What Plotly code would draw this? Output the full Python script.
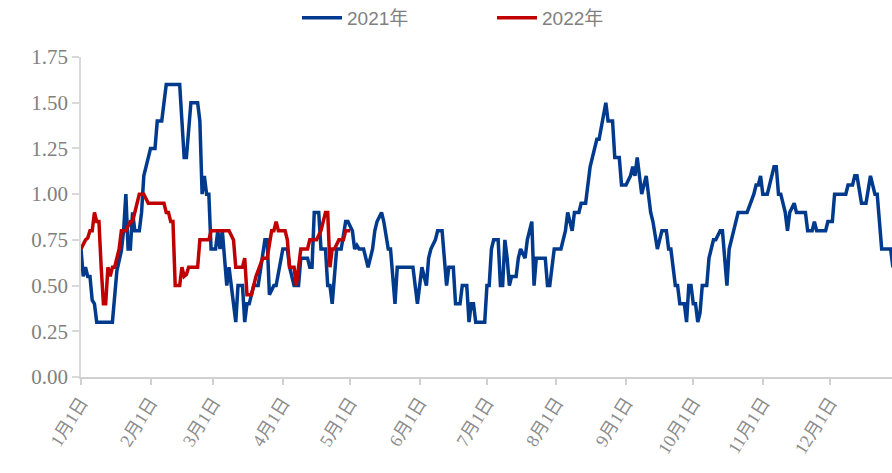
import pandas as pd
import plotly.graph_objects as go

# Day offsets from 1 Jan (same calendar day for both years) and values
days_2021 = [0, 1, 2, 3, 4, 5, 6, 7, 14, 15, 16, 18, 19, 20, 21, 22, 23, 24, 26, 27, 28, 30, 31, 33, 34, 36, 38, 44,
             46, 47, 48, 49, 52, 53, 54, 55, 56, 57, 58, 60, 61, 62, 63, 65, 66, 67, 69, 70, 72, 73, 74, 75, 77, 79,
             81, 82, 83, 84, 86, 87, 90, 92, 93, 95, 97, 98, 101, 102, 103, 104, 106, 107, 109, 110, 111, 112, 114,
             116, 118, 119, 121, 122, 123, 124, 126, 128, 130, 131, 132, 134, 135, 137, 138, 140, 141, 148, 150, 152,
             154, 155, 156, 158, 159, 161, 163, 164, 166, 167, 169, 170, 172, 173, 174, 175, 176, 180, 181, 182, 183,
             184, 186, 187, 188, 189, 190, 191, 192, 194, 195, 196, 198, 199, 201, 202, 203, 207, 208, 209, 211, 214,
             216, 217, 219, 220, 222, 223, 225, 227, 228, 230, 231, 234, 235, 237, 238, 240, 241, 243, 245, 246, 247,
             248, 249, 250, 252, 254, 255, 257, 258, 259, 261, 262, 263, 265, 266, 267, 269, 270, 271, 272, 273, 274,
             275, 276, 277, 279, 280, 282, 283, 285, 286, 288, 289, 291, 293, 297, 300, 301, 302, 303, 304, 306, 308,
             309, 310, 311, 312, 314, 315, 316, 318, 319, 323, 324, 326, 327, 328, 332, 333, 335, 336, 341, 342, 344,
             345, 346, 348, 350, 352, 354, 355, 357, 361, 362]
vals_2021 = [0.70, 0.55, 0.60, 0.55, 0.55, 0.42, 0.40, 0.30, 0.30, 0.44, 0.58, 0.69, 0.80, 1.00, 0.70, 0.70, 0.90,
             0.80, 0.80, 0.90, 1.10, 1.20, 1.25, 1.25, 1.40, 1.40, 1.60, 1.60,
             1.20, 1.20, 1.35, 1.50, 1.50, 1.40, 1.00, 1.10, 1.00, 1.00, 0.70, 0.70, 0.80, 0.70, 0.80, 0.50, 0.60,
             0.50, 0.30, 0.50, 0.50, 0.30, 0.40, 0.40, 0.50, 0.50,
             0.65, 0.75, 0.75, 0.45, 0.50, 0.50, 0.70, 0.70, 0.60, 0.50, 0.50, 0.65, 0.65, 0.60, 0.60, 0.90, 0.90,
             0.70, 0.70, 0.50, 0.50, 0.40, 0.70,
             0.70, 0.85, 0.85, 0.80, 0.70, 0.72, 0.70, 0.70, 0.60, 0.70, 0.80, 0.85, 0.90, 0.85, 0.70, 0.70, 0.40,
             0.60, 0.60, 0.40, 0.60,
             0.50, 0.65, 0.70, 0.75, 0.80, 0.80, 0.50, 0.60, 0.60, 0.40, 0.40, 0.50, 0.50, 0.30, 0.40, 0.40, 0.30,
             0.30, 0.50, 0.50, 0.70,
             0.75, 0.75, 0.50, 0.50, 0.75, 0.65, 0.50, 0.55, 0.55, 0.65, 0.70, 0.65, 0.75, 0.85, 0.50, 0.65, 0.65,
             0.50, 0.50, 0.70, 0.70,
             0.80, 0.90, 0.80, 0.90, 0.90, 0.95, 0.95, 1.15, 1.20, 1.30, 1.30, 1.50, 1.40, 1.40, 1.20, 1.20, 1.05,
             1.05, 1.10, 1.15, 1.10,
             1.20, 1.10, 1.00, 1.10, 0.90, 0.85, 0.70, 0.75, 0.80, 0.80, 0.70, 0.70, 0.50, 0.50, 0.40, 0.40, 0.30,
             0.50, 0.50, 0.40, 0.40,
             0.30, 0.35, 0.50, 0.50, 0.65, 0.75, 0.75, 0.80, 0.80, 0.50, 0.70, 0.80, 0.90, 0.90, 1.00, 1.05, 1.05,
             1.10, 1.00, 1.00, 1.10,
             1.15, 1.15, 1.00, 1.00, 0.90, 0.80, 0.90, 0.95, 0.90, 0.90, 0.80, 0.80, 0.85, 0.80, 0.80, 0.85, 0.85,
             1.00, 1.00, 1.05, 1.05,
             1.10, 1.10, 0.95, 0.95, 1.10, 1.00, 1.00, 0.70, 0.70, 0.60]

days_2022 = [0, 2, 3, 4, 5, 6, 7, 8, 9, 10, 11, 12, 13, 14, 15, 17, 18, 20, 22, 23, 25, 26, 28, 30, 37, 38, 39, 40,
             41, 42, 44, 45, 46, 47, 48, 52, 53, 57, 58, 66, 68, 69, 72, 73, 74, 76, 78, 79, 81, 83, 85, 86, 87, 88,
             91, 92, 93, 95, 96, 97, 98, 101, 102, 105, 107, 109, 110, 111, 112, 113, 115, 117, 118, 120]
vals_2022 = [0.70, 0.75, 0.76, 0.80, 0.80, 0.90, 0.85, 0.85, 0.60, 0.40, 0.40, 0.60, 0.55, 0.60, 0.60, 0.70, 0.80,
             0.80, 0.85, 0.85, 0.95, 1.00, 1.00, 0.95, 0.95, 0.90, 0.90, 0.85,
             0.85, 0.50, 0.50, 0.60, 0.55, 0.56, 0.60, 0.60, 0.75, 0.75, 0.80, 0.80, 0.75, 0.60, 0.60, 0.65, 0.45,
             0.45, 0.55, 0.58, 0.65, 0.65, 0.80, 0.80, 0.85, 0.80,
             0.80, 0.75, 0.60, 0.60, 0.50, 0.60, 0.70, 0.70, 0.75, 0.75, 0.80, 0.90, 0.90, 0.60, 0.70, 0.70, 0.75,
             0.75, 0.80, 0.80]

month_labels = ["1月1日", "2月1日", "3月1日", "4月1日", "5月1日", "6月1日",
                "7月1日", "8月1日", "9月1日", "10月1日", "11月1日", "12月1日"]
y_ticks = [0.00, 0.25, 0.50, 0.75, 1.00, 1.25, 1.50, 1.75]

base = pd.Timestamp("2021-01-01")
x21 = base + pd.to_timedelta(days_2021, unit="D")
x22 = base + pd.to_timedelta(days_2022, unit="D")
month_starts = pd.date_range("2021-01-01", periods=12, freq="MS")

fig = go.Figure()
fig.add_trace(go.Scatter(x=x21, y=vals_2021, mode="lines", name="2021年",
                         line=dict(color="#003A8C", width=3.5)))
fig.add_trace(go.Scatter(x=x22, y=vals_2022, mode="lines", name="2022年",
                         line=dict(color="#C00000", width=3.5)))

gray = "#808080"
fig.update_layout(
    width=892, height=473,
    margin=dict(l=81, r=0, t=57, b=96, autoexpand=False),
    paper_bgcolor="white", plot_bgcolor="white",
    showlegend=True,
    legend=dict(orientation="h", x=(297 - 81) / 811, xanchor="left",
                y=1 + (57 - 18) / 320, yanchor="middle",
                font=dict(family="Liberation Sans Narrow, Arial Narrow, Liberation Sans, Noto Sans CJK SC",
                          size=19, color=gray),
                entrywidth=140, entrywidthmode="pixels",
                itemwidth=40, traceorder="normal", bgcolor="rgba(0,0,0,0)"),
    xaxis=dict(
        type="date", automargin=False,
        range=[base, base + pd.Timedelta(days=361.6)],
        tickvals=month_starts, ticktext=month_labels,
        tickangle=-58,
        tickfont=dict(family="Times New Roman, Liberation Serif, Noto Sans CJK SC", size=18, color="#8c8c8c"),
        showgrid=False, zeroline=False,
        showline=True, linecolor="#D0D0D0", linewidth=1.5,
        ticks="outside", ticklen=6, tickcolor="#D0D0D0", tickwidth=1.5,
    ),
    yaxis=dict(
        range=[0, 1.75], automargin=False,
        tickvals=y_ticks, tickformat=".2f",
        tickfont=dict(family="Times New Roman, Liberation Serif, serif", size=21, color=gray),
        showgrid=False, zeroline=False,
        showline=True, linecolor="#D9D9D9", linewidth=1.5,
        ticks="outside", ticklen=7, tickcolor="#D9D9D9", tickwidth=1.5,
    ),
)

# remove the default page margin so the 892x473 figure fills the window exactly
post = (
    "document.body.style.margin='0px';"
    "document.body.style.overflow='hidden';"
    "var gd=document.getElementById('{plot_id}');"
    "gd.style.width='892px';gd.style.height='473px';"
    "if(gd.parentNode){gd.parentNode.style.width='892px';}"
    "Plotly.relayout(gd,{width:892,height:473});"
)
fig.write_html("out.html", post_script=post,
               config={"responsive": False, "displayModeBar": False})
